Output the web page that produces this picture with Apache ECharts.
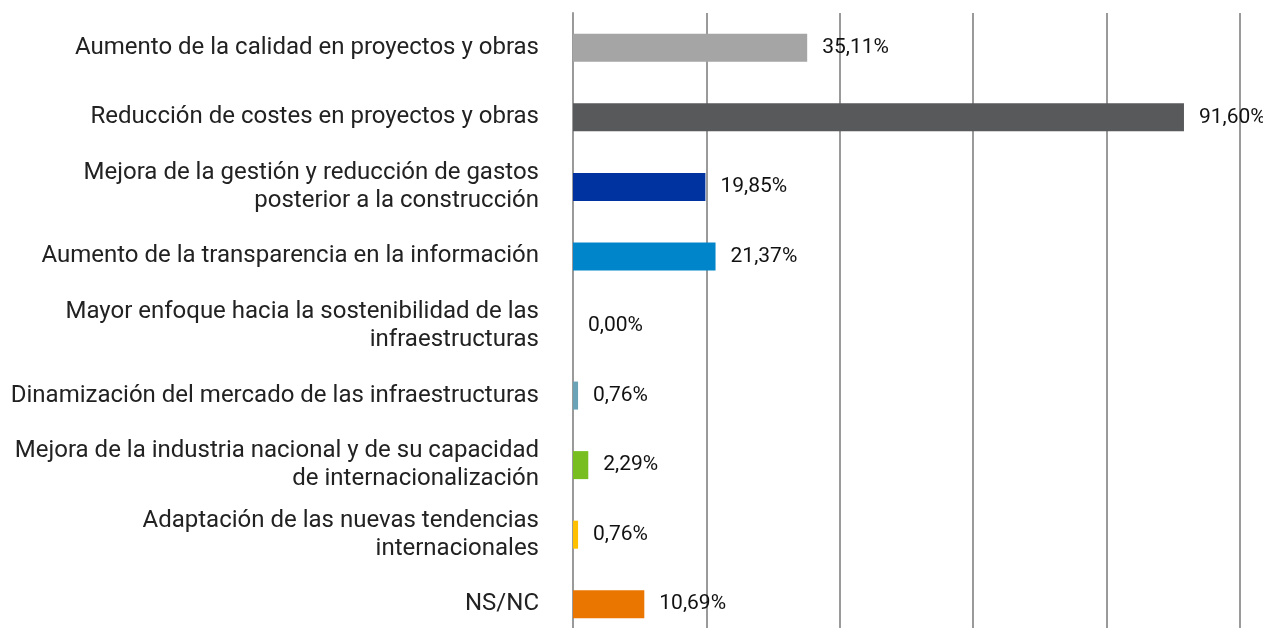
<!DOCTYPE html>
<html>
<head>
<meta charset="utf-8">
<script src="https://cdn.jsdelivr.net/npm/echarts@6/dist/echarts.min.js"></script>
<style>
  html, body { margin: 0; padding: 0; background: #fff; overflow: hidden; }
  #chart { width: 1263px; height: 645px; }
</style>
</head>
<body>
<div id="chart"></div>
<script>
  // categorías (de arriba a abajo)
  var categories = [
    'Aumento de la calidad en proyectos y obras',
    'Reducción de costes en proyectos y obras',
    'Mejora de la gestión y reducción de gastos\nposterior a la construcción',
    'Aumento de la transparencia en la información',
    'Mayor enfoque hacia la sostenibilidad de las\ninfraestructuras',
    'Dinamización del mercado de las infraestructuras',
    'Mejora de la industria nacional y de su capacidad\nde internacionalización',
    'Adaptación de las nuevas tendencias\ninternacionales',
    'NS/NC'
  ];
  var values = [35.11, 91.60, 19.85, 21.37, 0.00, 0.76, 2.29, 0.76, 10.69];
  var barColors = ['#a5a5a5', '#58595b', '#0033a0', '#0085ca', '#7f7f7f', '#6aa2b8', '#78be20', '#ffc000', '#ea7600'];

  var myChart = echarts.init(document.getElementById('chart'));

  var data = values.map(function (v, i) {
    return { value: v, itemStyle: { color: barColors[i] } };
  });

  myChart.setOption({
    animation: false,
    grid: {
      left: 573,
      right: 23,
      top: 13,
      height: 626,
      containLabel: false
    },
    xAxis: {
      type: 'value',
      min: 0,
      max: 100,
      interval: 20,
      axisLine: { show: false },
      axisTick: { show: false },
      axisLabel: { show: false },
      splitLine: { lineStyle: { color: '#9a9a9a', width: 2 } }
    },
    yAxis: {
      type: 'category',
      inverse: true,
      data: categories,
      axisLine: { show: true, lineStyle: { color: '#9a9a9a', width: 2 } },
      axisTick: { show: false },
      axisLabel: {
        margin: 34,
        color: '#222',
        fontFamily: 'Roboto',
        fontSize: 24,
        lineHeight: 28,
        align: 'right'
      }
    },
    series: [{
      type: 'bar',
      data: data,
      barWidth: 28,
      label: {
        show: true,
        position: 'right',
        distance: 15,
        color: '#111',
        fontFamily: 'Roboto',
        fontSize: 21,
        formatter: function (p) {
          return p.value.toFixed(2).replace('.', ',') + '%';
        }
      }
    }]
  });
</script>
</body>
</html>
